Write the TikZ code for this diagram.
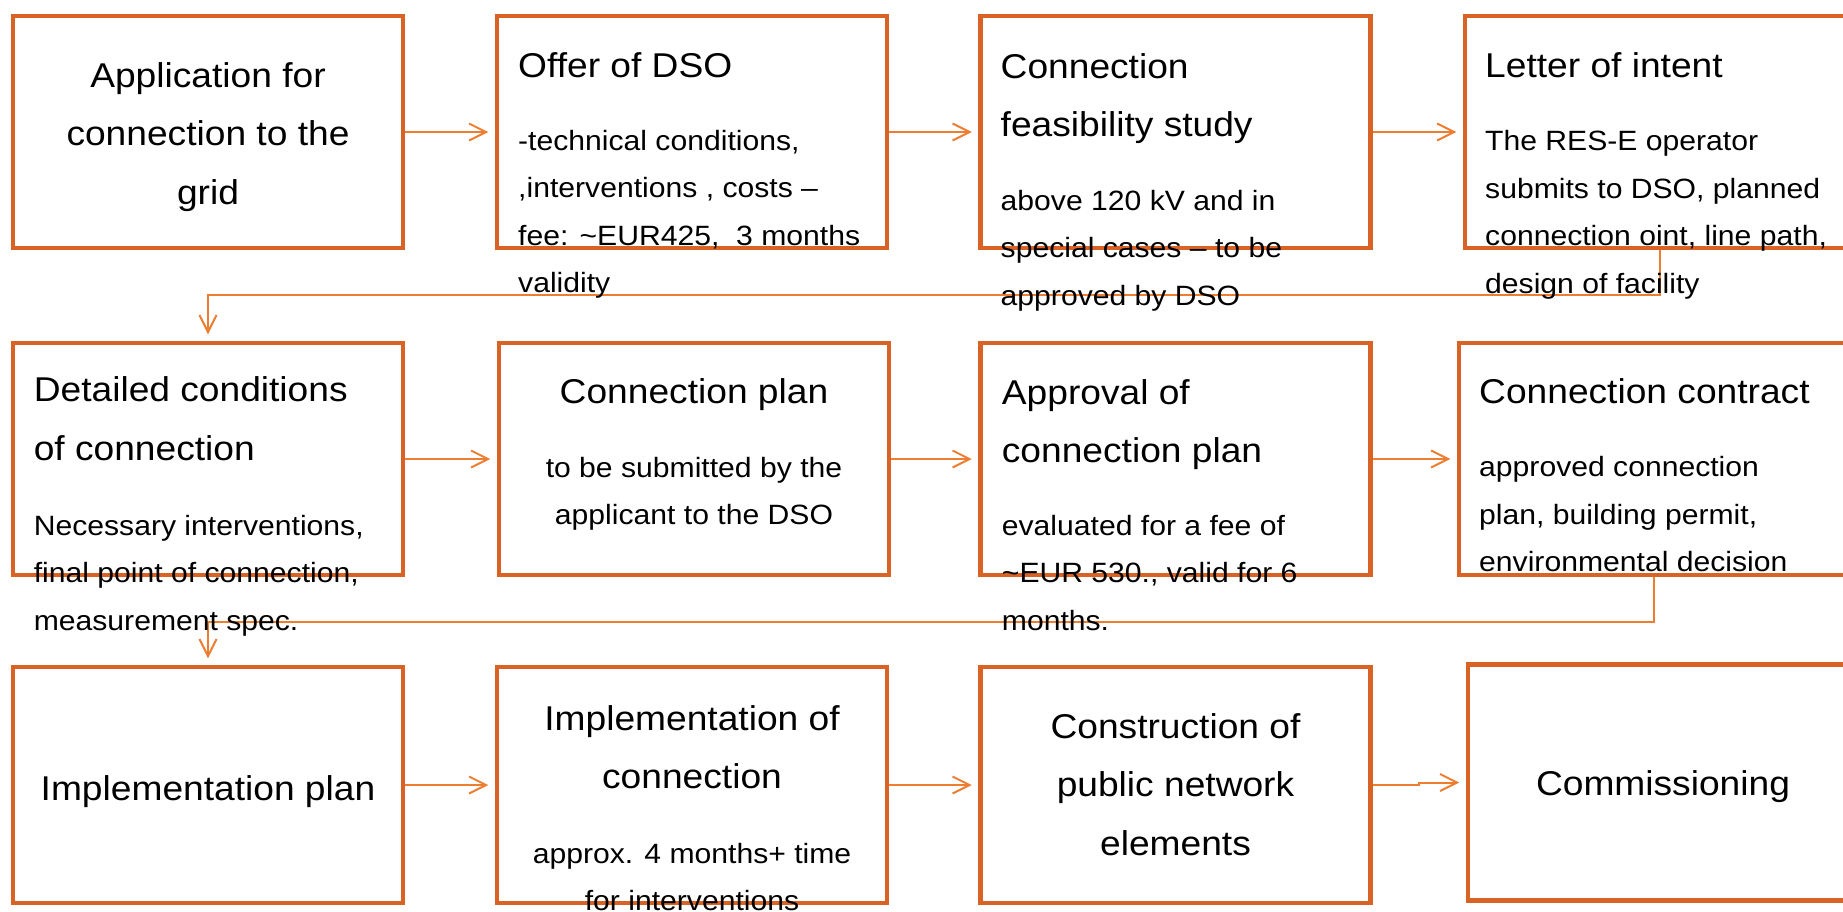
\documentclass[tikz,border=0pt]{standalone}
\usepackage{fontspec}
\setmainfont{Liberation Sans}[FakeStretch=1.08]
\usetikzlibrary{arrows.meta}
\definecolor{boxorange}{RGB}{217,98,37}
\definecolor{lineorange}{RGB}{237,125,49}
\newcommand\ttlsize{\fontsize{34.4}{58.5}\selectfont}
\newcommand\bodysize{\fontsize{27.9}{47.6}\selectfont}
\newcommand\lstack[1]{\begin{tabular}[t]{@{}l@{}}#1\end{tabular}}
\newcommand\cstack[1]{\begin{tabular}[t]{@{}c@{}}#1\end{tabular}}

\begin{document}
\begin{tikzpicture}[x=1pt, y=-1pt,
  stepbox/.style={draw=boxorange, line width=4.5pt, minimum width=390pt,
                  minimum height=232pt, inner sep=0pt},
  tallbox/.style={stepbox, minimum height=236pt},
  conn/.style={draw=lineorange, line width=2pt,
               -{Straight Barb[length=17pt,width=17pt]}, shorten >=6.5pt},
  ttl/.style={inner sep=0pt, font=\ttlsize},
  txt/.style={inner sep=0pt, font=\bodysize}]

\useasboundingbox (0,0) rectangle (1843,911);
\clip (0,0) rectangle (1843,911);

% ---- process steps: three rows of four boxes
\node[stepbox] (b1) at (208,132) {};
\node[stepbox] (b2) at (692,132) {};
\node[stepbox] (b3) at (1175.5,132) {};
\node[stepbox] (b4) at (1660,132) {};

\node[stepbox] (b5) at (208,459) {};
\node[stepbox] (b6) at (694,459) {};
\node[stepbox] (b7) at (1175.5,459) {};
\node[stepbox] (b8) at (1654,459) {};

\node[tallbox] (b9)  at (208,785) {};
\node[tallbox] (b10) at (692,785) {};
\node[tallbox] (b11) at (1175.5,785) {};
\node[tallbox] (b12) at (1663,782.5) {};

% ---- connectors
\draw[conn] (b1.east) -- (b2.west);
\draw[conn] (b2.east) -- (b3.west);
\draw[conn] (b3.east) -- (b4.west);
\draw[conn] (b4.south) -- ++(0,45) -| (b5.north);

\draw[conn] (b5.east) -- (b6.west);
\draw[conn] (b6.east) -- (b7.west);
\draw[conn] (b7.east) -- (b8.west);
\draw[conn] (b8.south) -- ++(0,44.5) -| (b9.north);

\draw[conn] (b9.east) -- (b10.west);
\draw[conn] (b10.east) -- (b11.west);
\draw[conn] (b11.east) -- ++(46,0) |- (b12.west);

% ---- row 1 texts
\node[ttl, anchor=base] (t1) at (208,87)
  {\cstack{Application for\\connection to the\\grid}};

\node[ttl, anchor=base west] (t2) at (518,77.3) {\lstack{Offer of DSO}};
\node[txt, anchor=base west] (d2) at (518,150)
  {\lstack{-technical conditions,\\,interventions , costs –\\fee: \textasciitilde EUR425,\ \ 3 months\\validity}};

\node[ttl, anchor=base west] (t3) at (1000.5,78.3)
  {\lstack{Connection\\feasibility study}};
\node[txt, anchor=base west] (d3) at (1000.5,210)
  {\lstack{above 120 kV and in\\special cases – to be\\approved by DSO}};

\node[ttl, anchor=base west] (t4) at (1485,77.3) {\lstack{Letter of intent}};
\node[txt, anchor=base west] (d4) at (1485,150.7)
  {\lstack{The RES-E operator\\submits to DSO, planned\\connection oint, line path,\\design of facility}};

% ---- row 2 texts
\node[ttl, anchor=base west] (t5) at (33.6,401.7)
  {\lstack{Detailed conditions\\of connection}};
\node[txt, anchor=base west] (d5) at (33.6,535)
  {\lstack{Necessary interventions,\\final point of connection,\\measurement spec.}};

\node[ttl, anchor=base] (t6) at (694,403.3) {\cstack{Connection plan}};
\node[txt, anchor=base] (d6) at (694,477)
  {\cstack{to be submitted by the\\applicant to the DSO}};

\node[ttl, anchor=base west] (t7) at (1001.7,404)
  {\lstack{Approval of\\connection plan}};
\node[txt, anchor=base west] (d7) at (1001.7,535)
  {\lstack{evaluated for a fee of\\\textasciitilde EUR 530., valid for 6\\months.}};

\node[ttl, anchor=base west] (t8) at (1479,403.3) {\lstack{Connection contract}};
\node[txt, anchor=base west] (d8) at (1479,476.7)
  {\lstack{approved connection\\plan, building permit,\\environmental decision}};

% ---- row 3 texts
\node[ttl, anchor=base] (t9) at (208,800) {\cstack{Implementation plan}};

\node[ttl, anchor=base] (t10) at (692,730)
  {\cstack{Implementation of\\connection}};
\node[txt, anchor=base] (d10) at (692,863.3)
  {\cstack{approx. 4 months+ time\\for interventions}};

\node[ttl, anchor=base] (t11) at (1175.5,738.3)
  {\cstack{Construction of\\public network\\elements}};

\node[ttl, anchor=base] (t12) at (1663,795) {\cstack{Commissioning}};

\end{tikzpicture}
\end{document}
